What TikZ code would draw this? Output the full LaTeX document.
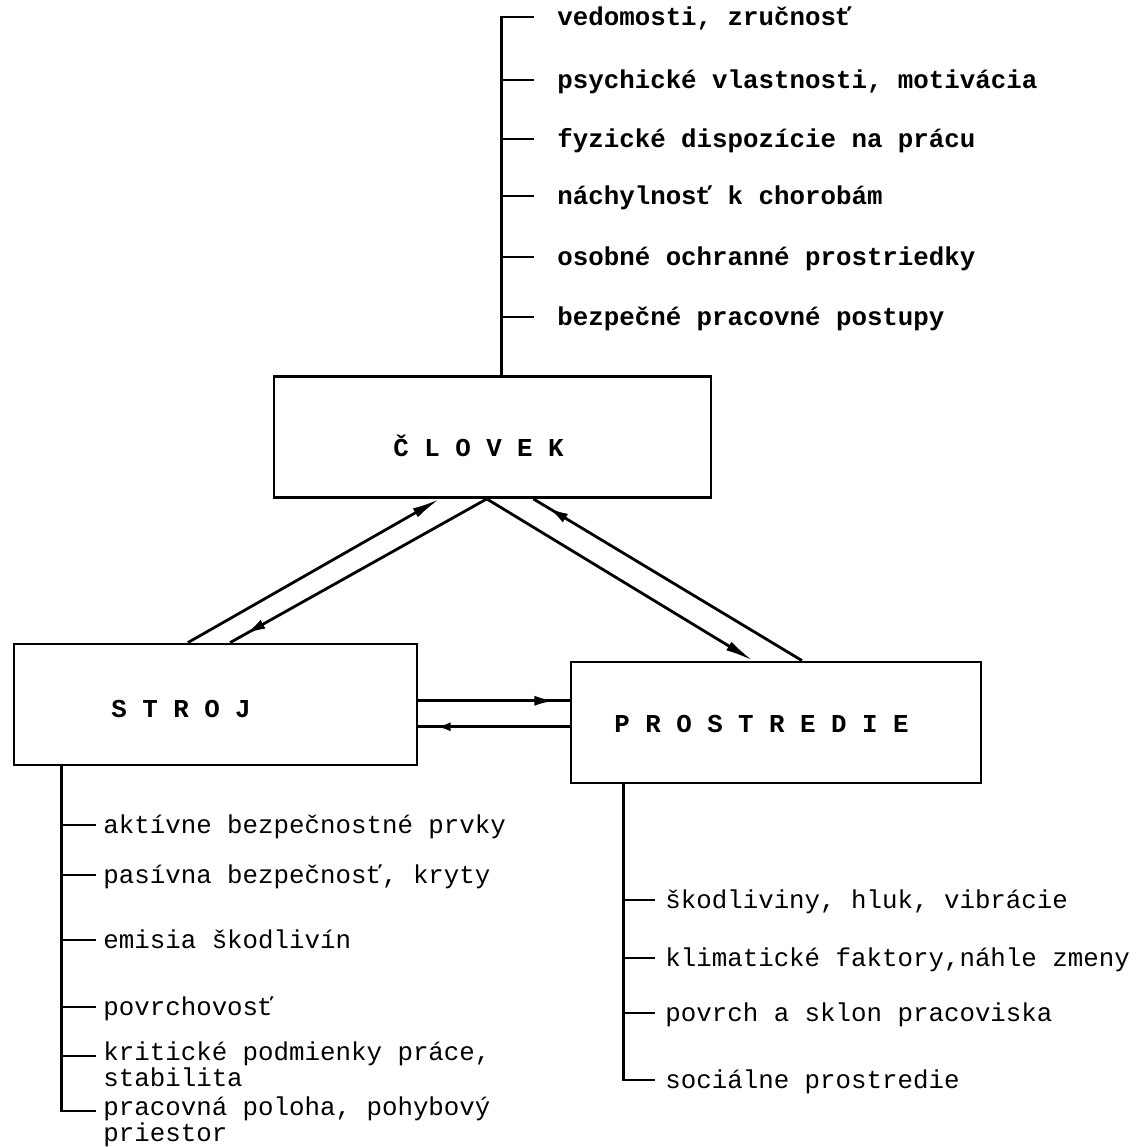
\documentclass[tikz,border=0pt]{standalone}
\usepackage{fontspec}
\setmonofont{Liberation Mono}
\usetikzlibrary{calc,arrows.meta,decorations.markings}

\begin{document}
\begin{tikzpicture}[x=0.5pt, y=-0.5pt, line width=1.4pt,
    every node/.style={font=\ttfamily\fontsize{12.9}{11.6}\selectfont},
    box/.style={draw, inner sep=0pt, minimum height=60.5pt},
    title/.style={anchor=base west, inner sep=0pt, font=\ttfamily\bfseries\fontsize{12.9}{11.6}\selectfont},
    item/.style={anchor=west, inner sep=0pt, text height=11pt, text depth=3pt},
    item2/.style={item, text height=7pt},
    bitem/.style={item, font=\ttfamily\bfseries\fontsize{12.9}{11.6}\selectfont},
    tip/.style={-{Latex[length=14pt,width=5pt]}},
    markat/.style={postaction={decorate}, decoration={markings,
        mark=at position #1 with {\arrow{Latex[length=10pt,width=5pt]}}}},
    openat/.style={postaction={decorate}, decoration={markings,
        mark=at position #1 with {\arrow{Latex[open,length=7pt,width=4.5pt]}}}}]
  \useasboundingbox (0,0) rectangle (1140,1147);

  % the three boxes
  \node[box, minimum width=218.5pt] (C) at (492.5,437) {};
  \node[box, minimum width=201.5pt] (S) at (215.5,704.5) {};
  \node[box, minimum width=205pt] (P) at (776,722.5) {};
  \node[title] (Ct) at (392,456) {Č L O V E K};
  \node[title] (St) at (110,717) {S T R O J};
  \node[title] (Pt) at (613,732) {P R O S T R E D I E};

  % where the links meet the boxes
  \coordinate (c1) at ($(C.south west)!0.38!(C.south east)$);
  \coordinate (c2) at ($(C.south west)!0.487!(C.south east)$);
  \coordinate (c3) at ($(C.south west)!0.593!(C.south east)$);
  \coordinate (s1) at ($(S.north west)!0.432!(S.north east)$);
  \coordinate (s2) at ($(S.north west)!0.536!(S.north east)$);
  \coordinate (s3) at ($(S.north east)!0.47!(S.south east)$);
  \coordinate (s4) at ($(S.north east)!0.68!(S.south east)$);
  \coordinate (p1) at ($(P.north west)!0.444!(P.north east)$);
  \coordinate (p2) at ($(P.north west)!0.563!(P.north east)$);

  \draw[tip] (s1) -- (c1);
  \draw[markat=0.94] (c2) -- (s2);
  \draw[tip] (c2) -- (p1);
  \draw[markat=0.945] (p2) -- (c3);
  \draw[markat=0.9] (s3) -- (s3 -| P.west);
  \draw[openat=0.88] (s4 -| P.west) -- (s4);

  % clovek
  \coordinate (cs) at ($(C.north west)!0.52!(C.north east)$);
  \node[bitem] (C1) at (556,17) {vedomosti, zručnosť};
  \node[bitem] (C2) at (556,80) {psychické vlastnosti, motivácia};
  \node[bitem] (C3) at (556,139) {fyzické dispozície na prácu};
  \node[bitem] (C4) at (556,196) {náchylnosť k chorobám};
  \node[bitem] (C5) at (556,257) {osobné ochranné prostriedky};
  \node[bitem] (C6) at (556,317) {bezpečné pracovné postupy};
  \draw (cs) -- (cs |- C1.west) -- ([xshift=-11pt]C1.west);
  \draw (cs |- C2.west) -- ([xshift=-11pt]C2.west);
  \draw (cs |- C3.west) -- ([xshift=-11pt]C3.west);
  \draw (cs |- C4.west) -- ([xshift=-11pt]C4.west);
  \draw (cs |- C5.west) -- ([xshift=-11pt]C5.west);
  \draw (cs |- C6.west) -- ([xshift=-11pt]C6.west);

  % stroj
  \coordinate (ss) at ($(S.south west)!0.12!(S.south east)$);
  \node[item] (S1) at (102,825) {aktívne bezpečnostné prvky};
  \node[item] (S2) at (102,875) {pasívna bezpečnosť, kryty};
  \node[item] (S3) at (102,940) {emisia škodlivín};
  \node[item] (S4) at (102,1007) {povrchovosť};
  \node[item2] (S5) at (102,1056) {\parbox[t]{240pt}{kritické podmienky práce,\\stabilita}};
  \node[item2] (S6) at (102,1111) {\parbox[t]{240pt}{pracovná poloha, pohybový\\priestor}};
  \draw (ss) -- (ss |- S6.west) -- ([xshift=-3pt]S6.west);
  \draw (ss |- S1.west) -- ([xshift=-3pt]S1.west);
  \draw (ss |- S2.west) -- ([xshift=-3pt]S2.west);
  \draw (ss |- S3.west) -- ([xshift=-3pt]S3.west);
  \draw (ss |- S4.west) -- ([xshift=-3pt]S4.west);
  \draw (ss |- S5.west) -- ([xshift=-3pt]S5.west);

  % prostredie
  \coordinate (ps) at ($(P.south west)!0.13!(P.south east)$);
  \node[item] (P1) at (664,900) {škodliviny, hluk, vibrácie};
  \node[item] (P2) at (664,958) {klimatické faktory,náhle zmeny};
  \node[item] (P3) at (664,1013) {povrch a sklon pracoviska};
  \node[item] (P4) at (664,1080) {sociálne prostredie};
  \draw (ps) -- (ps |- P4.west) -- ([xshift=-4.5pt]P4.west);
  \draw (ps |- P1.west) -- ([xshift=-4.5pt]P1.west);
  \draw (ps |- P2.west) -- ([xshift=-4.5pt]P2.west);
  \draw (ps |- P3.west) -- ([xshift=-4.5pt]P3.west);
\end{tikzpicture}
\end{document}
